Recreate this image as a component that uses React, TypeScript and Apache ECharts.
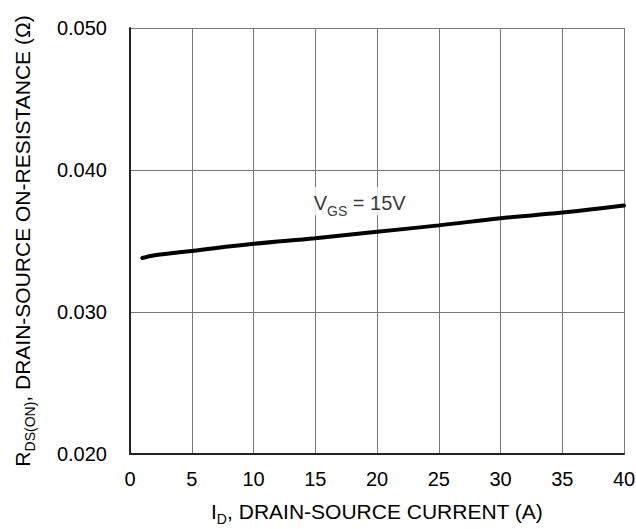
import React, { useEffect, useRef } from "react";
import * as echarts from "echarts";

const currentA = [1, 2, 3, 5, 10, 15, 20, 25, 30, 35, 40];
const rdsOn = [0.0338, 0.034, 0.0341, 0.0343, 0.0348, 0.0352, 0.03565, 0.0361, 0.0366, 0.037, 0.0375];
const xTicks = [0, 5, 10, 15, 20, 25, 30, 35, 40];
const yTicks = [0.02, 0.03, 0.04, 0.05];
const annotation = { x: 18.6, y: 0.0378, text: "{v|V}{s|GS}{v| = 15V}" };

const FONT = "Liberation Sans, Arial, Helvetica, sans-serif";

const nameRich = {
  n: { fontSize: 21, fontFamily: FONT, color: "#000", verticalAlign: "bottom", lineHeight: 24 },
  sub: { fontSize: 14, fontFamily: FONT, color: "#000", verticalAlign: "bottom", lineHeight: 16, padding: [0, 0, -4, 0] },
};

export default function App() {
  const ref = useRef<HTMLDivElement>(null);
  useEffect(() => {
    document.body.style.margin = "0";
    const chart = echarts.init(ref.current!, null, { renderer: "svg" });
    chart.setOption({
      animation: false,
      backgroundColor: "#fff",
      textStyle: { fontFamily: FONT },
      grid: { left: 130, right: 12, top: 28, bottom: 75, outerBoundsMode: "none", containLabel: false },
      xAxis: {
        type: "value",
        min: xTicks[0],
        max: xTicks[xTicks.length - 1],
        interval: 5,
        name: "{n|I}{sub|D}{n|, DRAIN-SOURCE CURRENT (A)}",
        nameLocation: "middle",
        nameGap: 44,
        nameTextStyle: { rich: nameRich },
        axisLine: { show: true, onZero: false, lineStyle: { color: "#222", width: 2 } },
        axisTick: { show: false },
        axisLabel: { fontSize: 20, color: "#000", margin: 15, fontFamily: FONT },
        splitLine: { show: true, lineStyle: { color: "#777", width: 1 } },
      },
      yAxis: {
        type: "value",
        min: yTicks[0],
        max: yTicks[yTicks.length - 1],
        interval: 0.01,
        name: "{n|R}{sub|DS(ON)}{n|, DRAIN-SOURCE ON-RESISTANCE (Ω)}",
        nameLocation: "middle",
        nameRotate: 90,
        nameGap: 97,
        nameTextStyle: { rich: nameRich },
        axisLine: { show: true, onZero: false, lineStyle: { color: "#222", width: 2 } },
        axisTick: { show: false },
        axisLabel: {
          fontSize: 20,
          color: "#000",
          margin: 23,
          fontFamily: FONT,
          formatter: (v: number) => v.toFixed(3),
        },
        splitLine: { show: true, lineStyle: { color: "#777", width: 1 } },
      },
      series: [
        {
          type: "line",
          data: currentA.map((x, i) => [x, rdsOn[i]]),
          smooth: 0.4,
          showSymbol: false,
          symbol: "none",
          lineStyle: { color: "#000", width: 4, cap: "round" },
          z: 3,
        },
        {
          type: "scatter",
          data: [[annotation.x, annotation.y]],
          symbolSize: 0,
          z: 4,
          label: {
            show: true,
            position: "inside",
            formatter: annotation.text,
            backgroundColor: "#fff",
            padding: [2, 4, 2, 4],
            rich: {
              v: { fontSize: 20, fontFamily: FONT, color: "#000", verticalAlign: "bottom", lineHeight: 24 },
              s: { fontSize: 14, fontFamily: FONT, color: "#000", verticalAlign: "bottom", lineHeight: 20, padding: [0, 0, -5, 0] },
            },
          },
        },
      ],
    });
    return () => chart.dispose();
  }, []);
  return <div ref={ref} style={{ position: "fixed", left: 0, top: 0, width: 636, height: 529 }} />;
}
